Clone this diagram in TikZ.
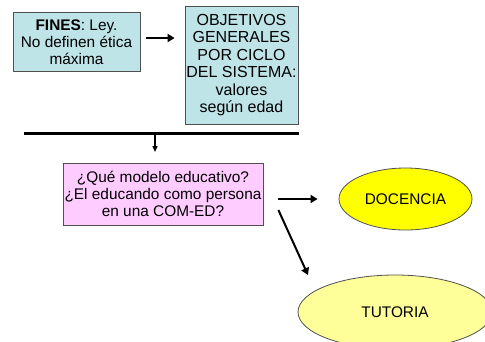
\documentclass[tikz,border=0pt]{standalone}
\usepackage{fontspec}
\setmainfont{Liberation Sans}
\usetikzlibrary{shapes.geometric,calc,arrows.meta}
\definecolor{cyanbox}{RGB}{191,228,232}
\definecolor{pinkbox}{RGB}{255,204,255}
\definecolor{yel}{RGB}{255,255,0}
\definecolor{lyel}{RGB}{255,255,153}
\definecolor{edge}{RGB}{80,80,80}
\tikzset{
  box/.style={draw=edge, line width=0.8pt, align=center, inner sep=0pt, font=\fontsize{15.4}{17.2}\selectfont},
  oval/.style={ellipse, draw=edge, line width=0.8pt, inner sep=0pt, font=\fontsize{15.4}{17.2}\selectfont},
  arr/.style={-{Triangle[length=7pt,width=8pt]}, line width=2pt},
  thinarr/.style={-{Triangle[length=6pt,width=5pt]}, line width=1.4pt}
}
\begin{document}
\begin{tikzpicture}[x=1pt,y=-1pt]
\useasboundingbox (0,0) rectangle (485,341);
\clip (0,0) rectangle (485,341);
\node[box, fill=cyanbox, minimum width=127, minimum height=59] (fines) at (76.5,42) {\textbf{FINES}: Ley.\\No definen ética\\máxima};
\node[box, fill=cyanbox, minimum width=113, minimum height=118, font=\fontsize{16}{17.4}\selectfont] (obj) at (241.5,65) {OBJETIVOS\\GENERALES\\POR CICLO\\DEL SISTEMA:\\valores\\según edad};
\node[box, fill=pinkbox, minimum width=200, minimum height=62] (pink) at (163,194) {¿Qué modelo educativo?\\¿El educando como persona\\en una COM-ED?};
\node[oval, fill=yel, minimum width=133, minimum height=62] (doc) at (405.5,199) {DOCENCIA};
\node[oval, fill=lyel, minimum width=194, minimum height=74] (tut) at (395,312) {TUTORIA};
\coordinate (hl1) at (24,133);
\coordinate (hl2) at (299,133);
\draw[line width=3pt] (hl1) -- (hl2);
\coordinate (dtop) at (155,133);
\coordinate (dbot) at (155,152);
\draw[thinarr] (dtop) -- (dbot);
\draw[arr] ($(fines.east)+(6,-4)$) -- ($(obj.west |- fines.east)+(-10,-4)$);
\draw[arr] ($(pink.east |- doc.center)+(15,0)$) -- ($(doc.west)+(-21,0)$);
\coordinate (tstart) at ($(pink.east)+(15,16)$);
\coordinate (tend) at ($(tut.center)+(-87,-37)$);
\draw[arr] (tstart) -- (tend);
\end{tikzpicture}
\end{document}
